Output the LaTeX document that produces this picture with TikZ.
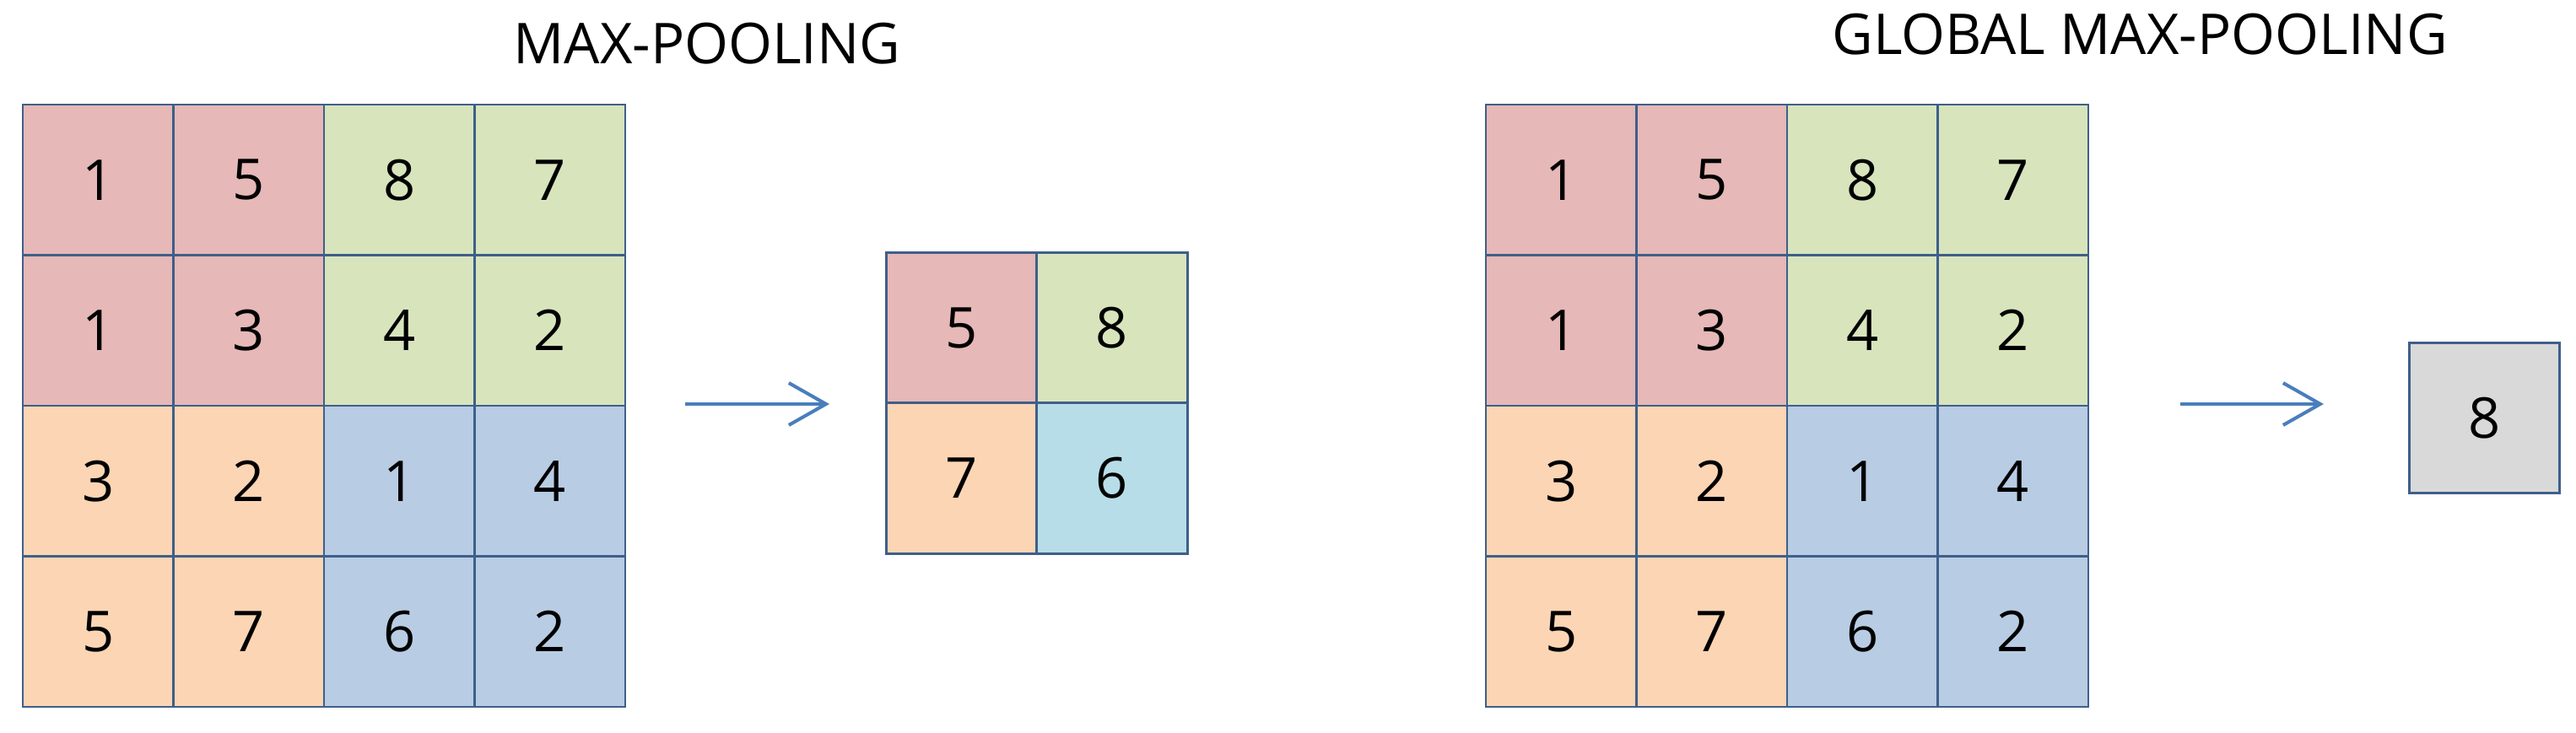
\documentclass[tikz,border=0pt]{standalone}
\usepackage{fontspec}
\setmainfont{Open Sans}
\usetikzlibrary{arrows.meta}

\definecolor{q00}{HTML}{E6B8B7}
\definecolor{q01}{HTML}{D8E4BC}
\definecolor{q10}{HTML}{FCD5B4}
\definecolor{q11}{HTML}{B8CCE4}
\definecolor{cellcyan}{HTML}{B7DEE8}
\definecolor{cellgray}{HTML}{D9D9D9}
\definecolor{gridline}{HTML}{3E5F8A}
\definecolor{flowblue}{HTML}{4A7EBB}

\begin{document}
\begin{tikzpicture}

      \tikzset{cell/.style={draw=gridline, line width=0.75pt, inner sep=0pt, minimum size=1.785cm, font=\fontsize{19}{22}\selectfont},
               title/.style={font=\fontsize{19}{22}\selectfont},
               flow/.style={draw=flowblue, line width=1.15pt, -{Straight Barb[length=0.44cm, width=0.5cm]}}}
      \useasboundingbox (0,0) rectangle (30.53,-8.69);
% Titles
      	\node[title] (t1) at (8.38,-0.515) {MAX-POOLING};
      	\node[title] (t2) at (25.36,-0.41) {GLOBAL MAX-POOLING};
% Input grids
      	\foreach \gx/\gn in {0.27/L, 17.61/R}
      	  \foreach \r/\vals in {1/{1,5,8,7}, 2/{1,3,4,2}, 3/{3,2,1,4}, 4/{5,7,6,2}}
      	    \foreach \v [count=\c] in \vals {
      	      \pgfmathtruncatemacro{\qr}{\r>2}
      	      \pgfmathtruncatemacro{\qc}{\c>2}
      	      \node[cell, fill=q\qr\qc] (\gn\r\c) at (\gx+1.785*\c-0.8925, -1.24-1.785*\r+0.8925) {\v};
      	    }
% Pooled grid
      	\node[cell, fill=q00] (S11) at (11.40,-3.89) {5};
      	\node[cell, fill=q01] (S12) at (13.18,-3.89) {8};
      	\node[cell, fill=q10] (S21) at (11.40,-5.67) {7};
      	\node[cell, fill=cellcyan] (S22) at (13.18,-5.67) {6};
      	\node[cell, fill=cellgray] (G) at (29.445,-4.955) {8};
% Arrows
      	\coordinate (a1) at (8.12,-4.79);
      	\coordinate (b1) at (9.83,-4.79);
      	\coordinate (a2) at (25.84,-4.79);
      	\coordinate (b2) at (27.54,-4.79);
		\draw[flow] (a1) -- (b1);
		\draw[flow] (a2) -- (b2);

	\end{tikzpicture}
\end{document}
